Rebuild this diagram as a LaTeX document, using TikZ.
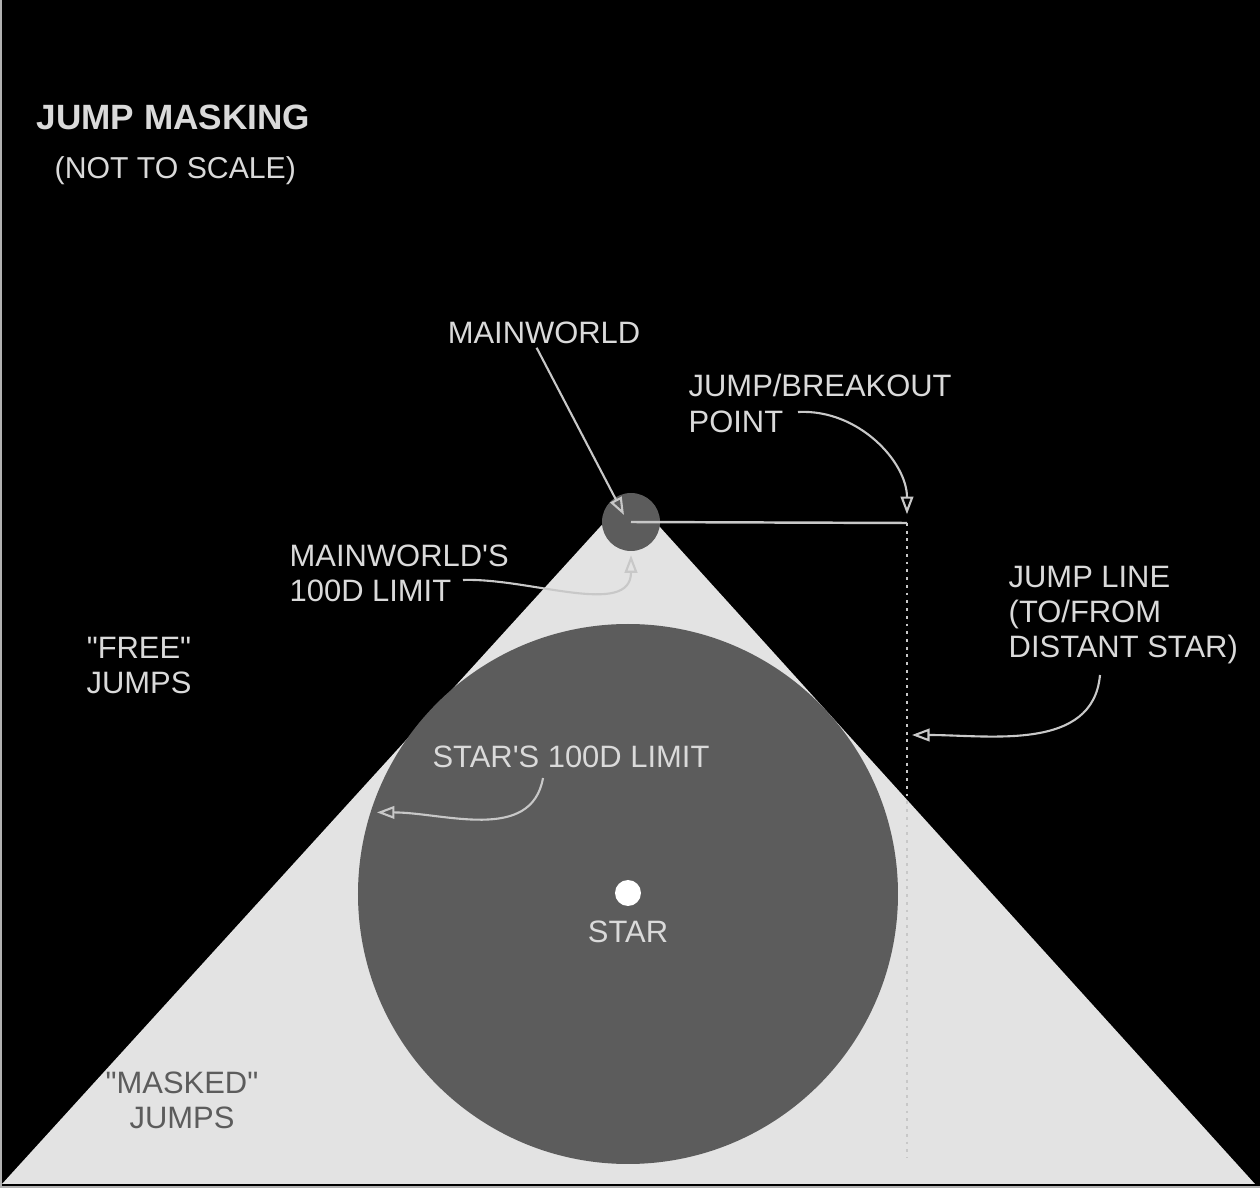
\documentclass[tikz,border=0pt]{standalone}
\usepackage{fontspec}
\setmainfont{Liberation Sans}[Ligatures=TeXOff]
\usetikzlibrary{arrows.meta,positioning,calc}
\definecolor{inkgray}{RGB}{218,218,218}
\definecolor{diskgray}{RGB}{92,92,92}
\definecolor{maskgray}{RGB}{227,227,227}
\definecolor{pointergray}{RGB}{200,200,200}

\begin{document}
\begin{tikzpicture}[
    lbl/.style={text=inkgray, font=\fontsize{8.8}{10}\selectfont, inner sep=0pt, align=left},
    disk/.style={circle, fill=diskgray, inner sep=0pt},
    ptr/.style={draw=pointergray, line width=0.6pt, -{Triangle[open, length=5pt, width=3.6pt]}}]
  \useasboundingbox (0,0) rectangle (12.6,11.88);
  \fill[black] (0,0) rectangle (12.6,11.88);
  \draw[gray!60, line width=0.8pt] (0.01,11.88) -- (0.01,0.01) -- (12.6,0.01);

  % Title
  \node[lbl, anchor=west, font=\fontsize{10}{11}\selectfont\bfseries] (title) at (0.36,10.71) {JUMP MASKING};
  \node[lbl, anchor=west, font=\fontsize{8.6}{10}\selectfont] (scale) at (0.54,10.17) {(NOT TO SCALE)};

  % Masking cone
  \coordinate (apex) at (6.30,6.94);
  \fill[maskgray] (0.02,0.04) -- (apex) -- (12.55,0.04) -- cycle;

  % Star and its 100D limit
  \node[disk, minimum size=5.40cm] (limit) at (6.28,2.94) {};
  \node[circle, fill=white, inner sep=0pt, minimum size=0.26cm] (star) at (6.28,2.95) {};
  \node[lbl] (starlbl) at (6.28,2.56) {STAR};

  % Mainworld
  \node[disk, minimum size=0.58cm] (mainworld) at (6.31,6.66) {};

  % Jump line
  \coordinate (breakout) at (9.07,6.65);
  \coordinate (lineend) at (9.07,0.30);
  \draw[pointergray, line width=0.7pt] (mainworld.center) -- (breakout);
  \draw[pointergray, line width=0.7pt, dash pattern=on 0.8pt off 1.4pt] (breakout) -- (lineend);

  % Labels
  \node[lbl] (mwlbl) at (5.44,8.55) {MAINWORLD};
  \node[lbl, anchor=west] (bplbl) at (6.88,7.845) {JUMP/BREAKOUT\\POINT};
  \node[lbl, anchor=west] (mwlimlbl) at (2.89,6.145) {MAINWORLD'S\\100D LIMIT};
  \node[lbl, anchor=west] (jllbl) at (10.08,5.73) {JUMP LINE\\(TO/FROM\\DISTANT STAR)};
  \node[lbl] (stlimlbl) at (5.71,4.31) {STAR'S 100D LIMIT};
  \node[lbl, align=center] (freelbl) at (1.39,5.225) {"FREE"\\JUMPS};
  \node[lbl, align=center, text=diskgray] (maskedlbl) at (1.82,0.875) {"MASKED"\\JUMPS};

  % Pointers
  \coordinate (bptail) at (7.98,7.76);
  \coordinate (mwltail) at (4.63,6.08);
  \coordinate (stltail) at (5.43,4.10);
  \coordinate (limitedge) at ($(limit.center)+(162:2.64)$);
  \coordinate (jltail) at (11.00,5.13);
  \coordinate (jlhit) at (9.12,4.53);
  \draw[ptr, shorten <=1pt] ([xshift=-0.09cm]mwlbl.south) -- ([xshift=-0.07cm, yshift=0.07cm]mainworld.center);
  \draw[ptr, shorten >=2.5pt] (bptail) to[out=3, in=90] (breakout);
  \draw[ptr, shorten >=1pt] (mwltail) to[out=2, in=-90] (mainworld.south);
  \draw[ptr] (stltail) to[out=-100, in=0] (limitedge);
  \draw[ptr] (jltail) to[out=-95, in=0] (jlhit);
\end{tikzpicture}
\end{document}
